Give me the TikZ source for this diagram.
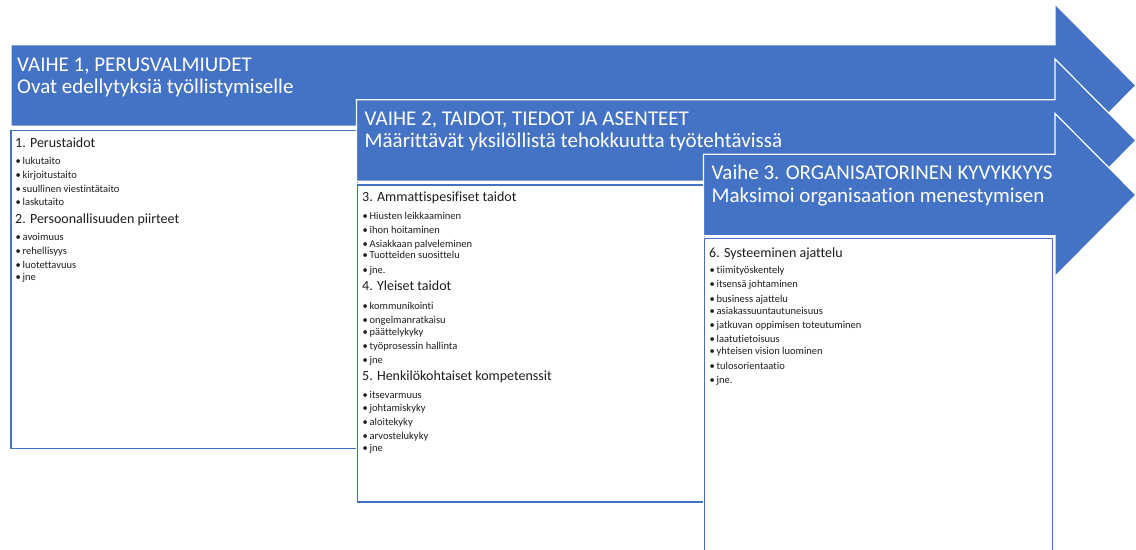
\documentclass[tikz,border=0pt]{standalone}
\usepackage{fontspec}
\setmainfont{Carlito}[Ligatures=NoCommon]
\definecolor{accent}{HTML}{4472C4}
\definecolor{ink}{HTML}{1E1E1E}
\newcommand\itembullet{\makebox[7bp][l]{•}}
\begin{document}
\begin{tikzpicture}[x=1bp,y=-1bp,
  stage/.style={fill=accent, draw=white, line width=1.2bp, line join=miter},
  panel/.style={rectangle, fill=white, draw=white, double=accent, double distance=1.4bp,
    line width=0.9bp, inner sep=0pt, anchor=north west},
  title/.style={text=white, font=\fontsize{21bp}{22bp}\selectfont, anchor=base west, inner sep=0pt},
  heading/.style={text=ink, font=\fontsize{14bp}{16bp}\selectfont, anchor=base west, inner sep=0pt},
  item/.style={text=ink, font=\fontsize{10.5bp}{12bp}\selectfont, anchor=base west, inner sep=0pt},
]
\useasboundingbox (0,0) rectangle (1136,550);
\clip (0,0) rectangle (1136,550);

% ---- stage 1 ----
\path[stage] (11,44.8) -- (1055,44.8) -- (1055,4) -- (1136,85.5) -- (1055,167)
  -- (1055,126.2) -- (11,126.2) -- cycle;
\node[title] (t1a) at (17,71.5) {VAIHE 1, PERUSVALMIUDET};
\node[title] (t1b) at (17,93.5) {Ovat edellytyksiä työllistymiselle};

\node[panel, minimum width=346.5bp, minimum height=318bp] (box1) at (10.5,130) {};
\node[heading] (h1) at (15,147.5) {1. Perustaidot};
\node[item] (i11) at (15.5,165) {\itembullet lukutaito};
\node[item] (i12) at (15.5,178.7) {\itembullet kirjoitustaito};
\node[item] (i13) at (15.5,193) {\itembullet suullinen viestintätaito};
\node[item] (i14) at (15.5,205.7) {\itembullet laskutaito};
\node[heading] (h2) at (15,223.5) {2. Persoonallisuuden piirteet};
\node[item] (i21) at (15.5,240.7) {\itembullet avoimuus};
\node[item] (i22) at (15.5,254.7) {\itembullet rehellisyys};
\node[item] (i23) at (15.5,268.7) {\itembullet luotettavuus};
\node[item] (i24) at (15.5,280.3) {\itembullet jne};

% ---- stage 2 ----
\path[stage] (356.5,99.8) -- (1055,99.8) -- (1055,59) -- (1136,140.5) -- (1055,222)
  -- (1055,181.2) -- (356.5,181.2) -- cycle;
\node[title] (t2a) at (364.5,125.5) {VAIHE 2, TAIDOT, TIEDOT JA ASENTEET};
\node[title] (t2b) at (364.5,147.5) {Määrittävät yksilöllistä tehokkuutta työtehtävissä};

\node[panel, minimum width=347bp, minimum height=317bp] (box2) at (357,184.5) {};
\node[heading] (h3) at (362,202) {3. Ammattispesifiset taidot};
\node[item] (i31) at (362.5,219.7) {\itembullet Hiusten leikkaaminen};
\node[item] (i32) at (362.5,233.7) {\itembullet ihon hoitaminen};
\node[item] (i33) at (362.5,248) {\itembullet Asiakkaan palveleminen};
\node[item] (i34) at (362.5,259) {\itembullet Tuotteiden suosittelu};
\node[item] (i35) at (362.5,273.7) {\itembullet jne.};
\node[heading] (h4) at (362,290.5) {4. Yleiset taidot};
\node[item] (i41) at (362.5,309.7) {\itembullet kommunikointi};
\node[item] (i42) at (362.5,324) {\itembullet ongelmanratkaisu};
\node[item] (i43) at (362.5,335.7) {\itembullet päättelykyky};
\node[item] (i44) at (362.5,349.7) {\itembullet työprosessin hallinta};
\node[item] (i45) at (362.5,363.7) {\itembullet jne};
\node[heading] (h5) at (362,381) {5. Henkilökohtaiset kompetenssit};
\node[item] (i51) at (362.5,398.7) {\itembullet itsevarmuus};
\node[item] (i52) at (362.5,411.3) {\itembullet johtamiskyky};
\node[item] (i53) at (362.5,425.7) {\itembullet aloitekyky};
\node[item] (i54) at (362.5,439.7) {\itembullet arvostelukyky};
\node[item] (i55) at (362.5,451.7) {\itembullet jne};

% ---- stage 3 ----
\path[stage] (703.5,154.3) -- (1055,154.3) -- (1055,113.5) -- (1136,195) -- (1055,276.5)
  -- (1055,235.7) -- (703.5,235.7) -- cycle;
\node[title] (t3a) at (711.5,179.5) {Vaihe 3. ORGANISATORINEN KYVYKKYYS};
\node[title] (t3b) at (711.5,202.5) {Maksimoi organisaation menestymisen};

\node[panel, minimum width=348bp, minimum height=330bp] (box3) at (704,238) {};
\node[heading] (h6) at (709,257.2) {6. Systeeminen ajattelu};
\node[item] (i61) at (709.5,273.7) {\itembullet tiimityöskentely};
\node[item] (i62) at (709.5,288) {\itembullet itsensä johtaminen};
\node[item] (i63) at (709.5,302.3) {\itembullet business ajattelu};
\node[item] (i64) at (709.5,315) {\itembullet asiakassuuntautuneisuus};
\node[item] (i65) at (709.5,328.3) {\itembullet jatkuvan oppimisen toteutuminen};
\node[item] (i66) at (709.5,342.3) {\itembullet laatutietoisuus};
\node[item] (i67) at (709.5,354.7) {\itembullet yhteisen vision luominen};
\node[item] (i68) at (709.5,369.7) {\itembullet tulosorientaatio};
\node[item] (i69) at (709.5,384) {\itembullet jne.};
\end{tikzpicture}
\end{document}
